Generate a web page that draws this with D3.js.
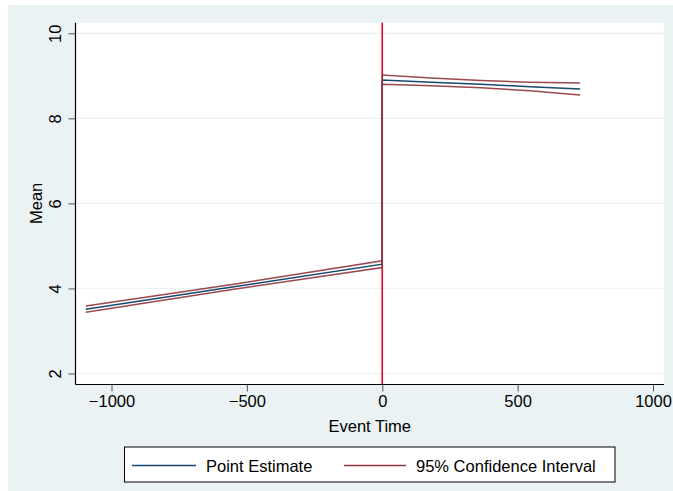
<!DOCTYPE html>
<html>
<head>
<meta charset="utf-8">
<script src="https://cdn.jsdelivr.net/npm/d3@7"></script>
<style>
  html, body { margin: 0; padding: 0; background: #ffffff; }
  svg { display: block; font-family: "Liberation Sans", Arial, Helvetica, sans-serif; }
</style>
</head>
<body>
<svg id="chart" width="673" height="491"></svg>
<script>
// Event time (days) — t = 0 appears twice: end of pre-period fit, start of post-period fit
const eventTime   = [-1095, -548, 0, 0, 180, 365, 545, 731];
const pointEst    = [3.51, 4.04, 4.57, 8.90, 8.85, 8.80, 8.745, 8.69];
const ciUpper     = [3.59, 4.10, 4.65, 9.02, 8.95, 8.89, 8.85, 8.83];
const ciLower     = [3.44, 3.98, 4.49, 8.80, 8.765, 8.72, 8.65, 8.55];

const xTicks = [-1000, -500, 0, 500, 1000];
const yTicks = [2, 4, 6, 8, 10];
const eventLine = 0;

const legendItems = ["Point Estimate", "95% Confidence Interval"];

const colors = { est: "#1A476F", ci: "#90353B", xline: "#E3002F", bg: "#EAF2F3" };

const svg = d3.select("#chart");

// outer graph region
svg.append("rect").attr("x", 8).attr("y", 5).attr("width", 673 - 8).attr("height", 491 - 5)
  .attr("fill", colors.bg);

const plot = { left: 75.5, right: 664, top: 22.7, bottom: 384.5 };
svg.append("rect").attr("x", plot.left).attr("y", plot.top)
  .attr("width", plot.right - plot.left).attr("height", plot.bottom - plot.top)
  .attr("fill", "#ffffff");

const x = d3.scaleLinear().domain([-1000, 1000]).range([111.5, 653]);
const y = d3.scaleLinear().domain([2, 10]).range([373.5, 33.3]);

// horizontal grid lines
svg.append("g").selectAll("line").data(yTicks).join("line")
  .attr("x1", plot.left).attr("x2", plot.right)
  .attr("y1", d => y(d)).attr("y2", d => y(d))
  .attr("stroke", colors.bg).attr("stroke-width", 1.2);

// vertical reference line at the event
svg.append("line")
  .attr("x1", x(eventLine)).attr("x2", x(eventLine))
  .attr("y1", plot.top).attr("y2", plot.bottom)
  .attr("stroke", colors.xline).attr("stroke-width", 1.6);

const rows = eventTime.map((t, i) => ({ t, est: pointEst[i], hi: ciUpper[i], lo: ciLower[i] }));
const lineFor = key => d3.line().x(d => x(d.t)).y(d => y(d[key]));

svg.append("path").datum(rows).attr("d", lineFor("est"))
  .attr("fill", "none").attr("stroke", colors.est).attr("stroke-width", 1.5);
svg.append("path").datum(rows).attr("d", lineFor("hi"))
  .attr("fill", "none").attr("stroke", colors.ci).attr("stroke-width", 1.5).attr("stroke-opacity", 0.9);
svg.append("path").datum(rows).attr("d", lineFor("lo"))
  .attr("fill", "none").attr("stroke", colors.ci).attr("stroke-width", 1.5).attr("stroke-opacity", 0.9);

// y axis
const yAxis = svg.append("g").attr("transform", `translate(${plot.left},0)`)
  .call(d3.axisLeft(y).tickValues(yTicks).tickSize(7).tickSizeOuter(0).tickFormat(d3.format("d")));
yAxis.select(".domain").remove();
yAxis.selectAll(".tick line").attr("stroke", "#555").attr("stroke-width", 1);
yAxis.selectAll(".tick text")
  .attr("font-size", 16.5).attr("fill", "#000")
  .attr("text-anchor", "middle")
  .attr("x", 0).attr("y", 0).attr("dy", 0)
  .attr("transform", `translate(${61 - plot.left},0) rotate(-90)`);
svg.append("line").attr("x1", plot.left).attr("x2", plot.left)
  .attr("y1", plot.top).attr("y2", plot.bottom).attr("stroke", "#000").attr("stroke-width", 1.2);

// x axis
const xAxis = svg.append("g").attr("transform", `translate(0,${plot.bottom})`)
  .call(d3.axisBottom(x).tickValues(xTicks).tickSize(7).tickSizeOuter(0)
    .tickFormat(d => d < 0 ? "\u2212" + Math.abs(d) : String(d)));
xAxis.select(".domain").remove();
xAxis.selectAll(".tick line").attr("stroke", "#555").attr("stroke-width", 1);
xAxis.selectAll(".tick text").attr("font-size", 16.5).attr("fill", "#000")
  .attr("y", 22.5).attr("dy", 0);
svg.append("line").attr("x1", plot.left).attr("x2", plot.right)
  .attr("y1", plot.bottom).attr("y2", plot.bottom).attr("stroke", "#000").attr("stroke-width", 1.2);

// axis titles
svg.append("text").attr("x", (plot.left + plot.right) / 2).attr("y", 432)
  .attr("text-anchor", "middle").attr("font-size", 16.5).text("Event Time");
svg.append("text").attr("transform", `translate(41.5,${y(6)}) rotate(-90)`)
  .attr("text-anchor", "middle").attr("font-size", 16.5).text("Mean");

// legend
const lg = svg.append("g");
lg.append("rect").attr("x", 124.5).attr("y", 447).attr("width", 615 - 124.5).attr("height", 35)
  .attr("fill", "#fff").attr("stroke", "#000").attr("stroke-width", 1);
const legendSpec = [
  { label: legendItems[0], color: colors.est, x1: 132, x2: 196, tx: 206 },
  { label: legendItems[1], color: colors.ci,  x1: 344, x2: 406, tx: 416 }
];
legendSpec.forEach(s => {
  lg.append("line").attr("x1", s.x1).attr("x2", s.x2).attr("y1", 465.5).attr("y2", 465.5)
    .attr("stroke", s.color).attr("stroke-width", 1.5);
  lg.append("text").attr("x", s.tx).attr("y", 472).attr("font-size", 16.5).text(s.label);
});
</script>
</body>
</html>
